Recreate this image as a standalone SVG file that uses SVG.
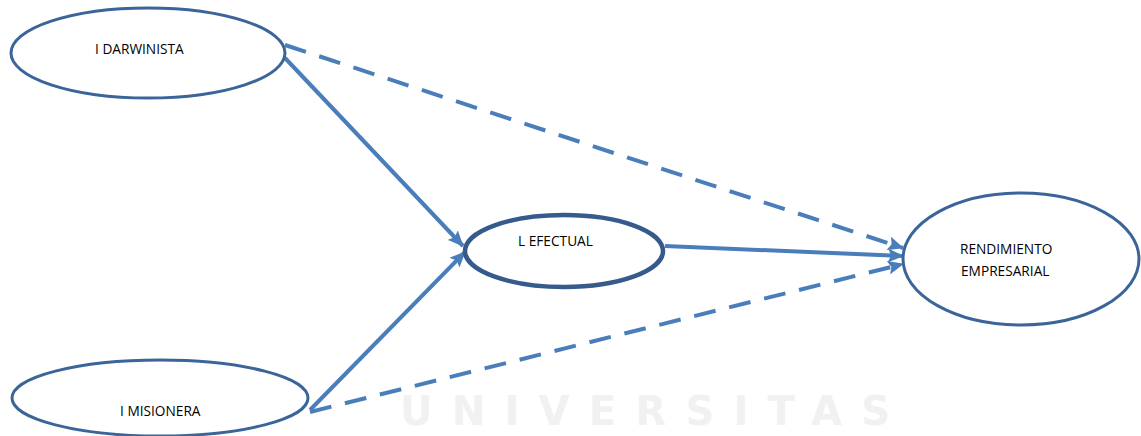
<svg xmlns="http://www.w3.org/2000/svg" width="1141" height="436" viewBox="0 0 1141 436">
<defs>
<style>
.node{fill:#ffffff;stroke:#3b659a;stroke-width:3}
.thick{stroke:#355a8c;stroke-width:4.5}
.lbl{font-family:"Open Sans","Liberation Sans",sans-serif;font-size:13.7px;fill:#000000}
.conn{stroke:#4a7ebb;stroke-width:4;fill:none}
.dash{stroke-dasharray:22 14}
.wm{font-family:"DejaVu Sans","Liberation Sans",sans-serif;font-weight:bold;font-size:40px;fill:#f1f1f1}
</style>
<marker id="ah" viewBox="0 0 16 14" refX="15" refY="7" markerWidth="16" markerHeight="14" markerUnits="userSpaceOnUse" orient="auto">
<path d="M0,0 L16,7 L0,14 L3,7 Z" fill="#4a7ebb"/>
</marker>
</defs>
<rect width="1141" height="436" fill="#ffffff"/>
<text class="wm" x="400" y="425" textLength="490" lengthAdjust="spacing">UNIVERSITAS</text>
<g id="connectors">
<line class="conn" x1="285" y1="58" x2="463" y2="246" marker-end="url(#ah)"/>
<line class="conn" x1="310" y1="410" x2="465" y2="252" marker-end="url(#ah)"/>
<line class="conn" x1="665" y1="246" x2="903" y2="256" marker-end="url(#ah)"/>
<line class="conn dash" x1="285" y1="45" x2="903" y2="248" marker-end="url(#ah)"/>
<line class="conn dash" x1="310" y1="412" x2="903" y2="264" marker-end="url(#ah)"/>
</g>
<g id="darwinista">
<ellipse class="node" cx="148" cy="53" rx="137" ry="45"/>
<text class="lbl" x="95" y="54">I DARWINISTA</text>
</g>
<g id="efectual">
<ellipse class="node thick" cx="564" cy="251" rx="99" ry="36"/>
<text class="lbl" x="518" y="246">L EFECTUAL</text>
</g>
<g id="rendimiento">
<ellipse class="node" cx="1021" cy="259" rx="118" ry="66"/>
<text class="lbl" x="960" y="254">RENDIMIENTO</text>
<text class="lbl" x="961" y="276">EMPRESARIAL</text>
</g>
<g id="misionera">
<ellipse class="node" cx="160" cy="398" rx="148" ry="38"/>
<text class="lbl" x="120" y="416">I MISIONERA</text>
</g>
</svg>
